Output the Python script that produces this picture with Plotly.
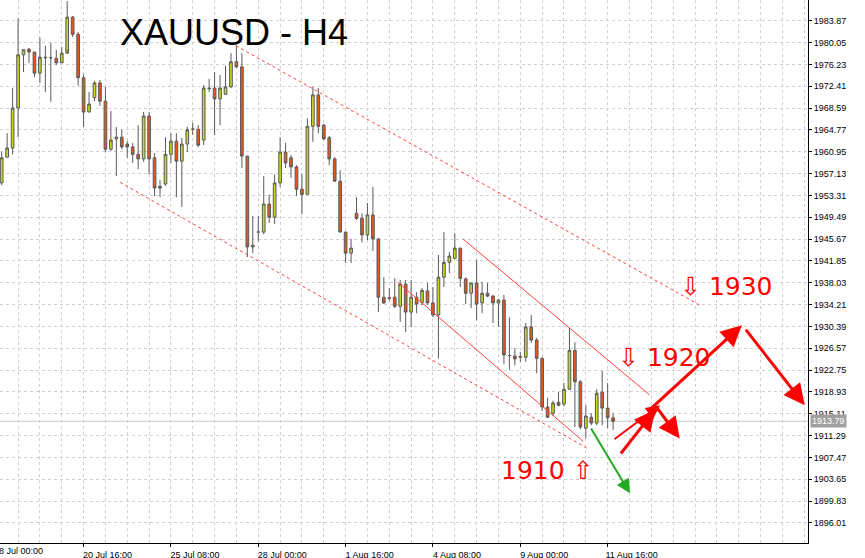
import plotly.graph_objects as go

opens = [1955.5,1960.0,1961.6,1968.6,1977.9,1978.9,1978.4,1974.7,1977.5,1977.4,1977.3,1976.5,1978.2,1984.5,1981.5,1973.9,1967.9,1970.4,1973.0,1969.8,1961.4,1963.2,1963.5,
         1962.3,1961.8,1960.5,1959.7,1967.2,1959.9,1954.9,1955.3,1960.5,1962.8,1959.3,1962.3,1964.9,1964.9,1963.0,1972.1,1972.1,1970.2,1971.0,1972.3,1976.7,1975.8,
         1960.2,1944.3,1946.9,1946.9,1951.8,1949.5,1955.5,1960.9,1959.9,1958.3,1954.4,1953.5,1965.4,1970.9,1965.6,1963.4,1959.7,1955.8,1946.9,1943.2,1950.2,1949.3,
         1946.4,1949.9,1945.7,1935.5,1935.4,1935.5,1933.9,1937.8,1932.9,1935.5,1934.6,1936.6,1934.5,1932.4,1939.0,1941.6,1942.3,1944.1,1938.7,1936.2,1938.0,1934.5,1936.2,
         1935.7,1934.5,1935.0,1925.3,1925.2,1925.0,1925.0,1930.3,1928.0,1924.8,1916.3,1915.2,1917.1,1916.8,1919.4,1926.2,1920.7,1912.6,1914.5,1913.5,1918.9,1916.1,1914.4]
highs = [1960.9,1964.2,1972.1,1984.3,1978.9,1979.1,1978.4,1980.9,1979.5,1980.0,1978.8,1979.3,1987.3,1984.7,1981.9,1974.5,1971.4,1973.3,1973.5,1972.3,1968.1,1965.3,1964.8,
         1962.8,1962.5,1965.6,1967.9,1967.9,1960.7,1956.0,1963.5,1964.2,1964.2,1963.4,1965.3,1966.0,1965.6,1972.6,1973.7,1974.9,1974.4,1976.0,1978.2,1979.6,1978.2,
         1960.2,1949.7,1949.7,1956.7,1953.5,1957.0,1963.5,1962.5,1960.4,1958.6,1957.0,1966.8,1972.3,1972.1,1965.8,1963.7,1960.0,1957.7,1946.9,1945.7,1953.0,1950.2,
         1952.0,1954.8,1945.7,1939.0,1937.1,1938.8,1938.5,1938.5,1938.5,1936.4,1937.1,1938.0,1937.3,1942.9,1946.9,1943.4,1946.7,1944.1,1939.0,1938.0,1942.0,1938.2,1938.0,
         1935.9,1935.2,1935.9,1932.0,1926.6,1925.9,1931.0,1932.4,1928.4,1925.0,1917.9,1917.4,1918.9,1920.5,1930.1,1927.6,1921.0,1916.6,1915.2,1919.4,1922.6,1920.5,1915.2]
lows = [1955.1,1960.0,1960.5,1963.5,1974.9,1976.5,1974.0,1973.0,1971.4,1969.7,1976.1,1976.7,1978.8,1981.0,1972.5,1965.3,1967.9,1969.8,1969.0,1960.9,1961.1,1956.7,1961.4,
        1959.9,1959.0,1957.9,1959.2,1957.0,1953.2,1953.0,1955.0,1959.0,1953.0,1951.3,1960.9,1963.9,1961.8,1962.1,1971.4,1963.9,1965.6,1970.9,1972.1,1975.6,1958.1,
        1942.5,1943.2,1945.3,1946.5,1948.5,1948.3,1954.8,1958.1,1956.4,1953.2,1950.0,1953.5,1962.7,1964.2,1963.0,1958.6,1955.8,1946.9,1941.5,1941.5,1949.0,1945.1,
        1945.5,1943.6,1932.9,1934.3,1934.9,1933.6,1931.2,1929.4,1930.3,1932.7,1934.1,1934.2,1932.0,1924.8,1937.3,1939.7,1942.3,1937.3,1934.3,1933.6,1931.5,1932.7,1935.5,
        1931.0,1930.3,1923.8,1922.8,1923.6,1924.2,1924.2,1927.5,1922.2,1915.6,1914.4,1914.7,1916.4,1916.4,1919.3,1912.8,1912.4,1910.8,1913.1,1913.1,1913.1,1912.6,1912.3]
closes = [1959.9,1961.6,1968.6,1977.9,1978.8,1978.4,1974.7,1977.5,1977.4,1977.4,1976.5,1978.2,1984.5,1981.5,1973.9,1967.9,1969.3,1973.0,1969.8,1961.4,1963.0,1963.5,1961.8,
          1961.8,1960.5,1959.7,1967.2,1959.7,1954.6,1954.6,1960.5,1962.8,1959.3,1962.3,1964.8,1964.9,1962.1,1972.1,1972.0,1970.2,1972.1,1972.3,1976.7,1975.8,1960.2,
          1944.3,1944.6,1946.9,1951.8,1949.5,1955.5,1960.9,1959.0,1958.3,1954.4,1953.5,1965.4,1970.9,1965.4,1963.2,1959.7,1955.8,1946.9,1943.2,1944.1,1949.3,1946.4,
          1949.9,1945.7,1935.5,1934.5,1935.3,1933.9,1937.8,1932.9,1935.5,1934.3,1936.7,1934.5,1932.4,1939.0,1941.6,1942.7,1944.1,1938.8,1936.2,1938.0,1934.3,1936.2,1935.7,
          1934.5,1935.0,1925.4,1925.3,1924.7,1925.1,1930.3,1928.0,1924.8,1916.3,1914.5,1917.0,1916.6,1919.4,1926.2,1920.7,1912.8,1914.7,1913.5,1918.7,1916.1,1914.4,1913.79]

first_label = "18 Jul 00:00"
tick_idx = [15, 31, 47, 63, 79, 95, 111]
tick_text = ["20 Jul 16:00", "25 Jul 08:00", "28 Jul 00:00",
             "1 Aug 16:00", "4 Aug 08:00", "9 Aug 00:00", "11 Aug 16:00"]
price_ticks = [round(1896.01 + 3.82 * k, 2) for k in range(25)]
last_price = 1913.79

channels_dashed = [(42.9, 1979.5, 127.9, 1934.1), (21.7, 1955.6, 107.2, 1909.1)]
channels_solid = [(84.5, 1945.7, 118.7, 1918.4), (72.6, 1938.1, 106.5, 1910.3)]
arrows = [(107.8, 1912.8, 115.1, 1901.2, "#22aa22", 2),
          (112.0, 1910.5, 120.6, 1916.6, "red", 2),
          (113.2, 1907.9, 119.7, 1915.8, "red", 3),
          (119.7, 1916.6, 124.2, 1910.8, "red", 3),
          (118.7, 1915.8, 135.6, 1930.6, "red", 3),
          (136.1, 1930.1, 147.1, 1916.6, "red", 3)]
labels = [(132.8, 1937.3, "⇩ 1930"), (121.5, 1925.0, "⇩ 1920"), (99.9, 1905.2, "1910 ⇧")]

x = list(range(len(opens)))
fig = go.Figure(go.Candlestick(
    x=x, open=opens, high=highs, low=lows, close=closes,
    increasing=dict(fillcolor="#c4d81c", line=dict(color="#5a5a5a", width=1)),
    decreasing=dict(fillcolor="#e8561c", line=dict(color="#5a5a5a", width=1)),
    whiskerwidth=0, showlegend=False, hoverinfo="skip"))

for (x0, y0, x1, y1) in channels_dashed:
    fig.add_shape(type="line", x0=x0, y0=y0, x1=x1, y1=y1,
                  line=dict(color="#ff4040", width=1, dash="dot"))
for (x0, y0, x1, y1) in channels_solid:
    fig.add_shape(type="line", x0=x0, y0=y0, x1=x1, y1=y1,
                  line=dict(color="#ff4040", width=1))
fig.add_shape(type="line", xref="paper", x0=0, x1=1, y0=last_price, y1=last_price,
              line=dict(color="#c8c8c8", width=1), layer="below")

for (tx, ty, hx, hy, c, w) in arrows:
    fig.add_annotation(x=hx, y=hy, ax=tx, ay=ty, xref="x", yref="y", axref="x", ayref="y",
                       showarrow=True, arrowhead=2, arrowsize=1.4, arrowwidth=w,
                       arrowcolor=c, text="")
for (lx, ly, t) in labels:
    fig.add_annotation(x=lx, y=ly, text=t, showarrow=False,
                       font=dict(family="DejaVu Sans", size=25, color="red"))

fig.add_annotation(x=0.29, y=0.94, xref="paper", yref="paper", text="XAUUSD - H4",
                   showarrow=False, xanchor="center", yanchor="middle",
                   font=dict(family="Liberation Sans", size=36, color="black"))
fig.add_annotation(x=1.0, y=last_price, xref="paper", yref="y", text=f"{last_price:.2f}",
                   showarrow=False, xanchor="left", xshift=2, bgcolor="#a0a0a0",
                   font=dict(family="Liberation Sans", size=9, color="white"))
fig.add_annotation(x=0, y=0, xref="paper", yref="paper", text=first_label,
                   showarrow=False, xanchor="left", yanchor="top", xshift=-8, yshift=-1,
                   font=dict(family="Liberation Sans", size=9, color="black"))

fig.update_layout(
    width=865, height=558, margin=dict(l=0, r=57, t=0, b=15),
    paper_bgcolor="white", plot_bgcolor="white",
    xaxis=dict(range=[-0.31, 147.7], rangeslider=dict(visible=False), automargin=False,
               tickmode="array", tickvals=tick_idx, ticktext=tick_text,
               ticks="outside", ticklen=3, tickcolor="black", ticklabelshift=24,
               ticklabelstandoff=0,
               showgrid=True, gridcolor="#d0d0d0", griddash="dot",
               minor=dict(tick0=3, dtick=4, showgrid=True, gridcolor="#d0d0d0", griddash="dot"),
               showline=True, linecolor="black", zeroline=False,
               tickfont=dict(family="Liberation Sans", size=9, color="black")),
    yaxis=dict(range=[1892.5, 1987.5], side="right", tickmode="array", automargin=False,
               tickvals=price_ticks, ticktext=[f"{v:.2f}" for v in price_ticks],
               ticks="outside", ticklen=3, tickcolor="black",
               showgrid=True, gridcolor="#d0d0d0", griddash="dot",
               showline=True, linecolor="black", zeroline=False,
               tickfont=dict(family="Liberation Sans", size=9, color="black")),
)
fig.write_html("out.html", config={"displayModeBar": False},
               post_script="document.body.style.margin='0';document.body.style.overflow='hidden';")
